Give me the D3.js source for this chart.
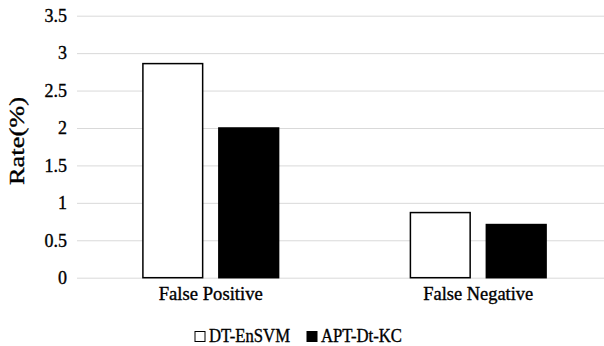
<!DOCTYPE html>
<html>
<head>
<meta charset="utf-8">
<script src="https://cdn.jsdelivr.net/npm/d3@7"></script>
<style>
  html, body { margin: 0; padding: 0; background: #fff; }
  svg { display: block; }
  text { font-family: "Liberation Serif", "DejaVu Serif", serif; fill: #000; stroke: #000; stroke-width: 0.35px; }
</style>
</head>
<body>
<svg id="chart" width="604" height="346"></svg>
<script>
// Error rates of the two detectors
const categories = ["False Positive", "False Negative"];
const seriesNames = ["DT-EnSVM", "APT-Dt-KC"];
const dtEnSvm = [2.86, 0.87];
const aptDtKc = [2.0, 0.71];
const yTicks = [0, 0.5, 1, 1.5, 2, 2.5, 3, 3.5];
const yTitle = "Rate(%)";

const seriesValues = [dtEnSvm, aptDtKc];
const fills = ["#ffffff", "#000000"];

const svg = d3.select("#chart");
const plot = { left: 77, right: 612, top: 15.7, bottom: 277.7 };

const x = d3.scaleBand().domain(categories).range([plot.left, plot.right]);
const xInner = d3.scaleBand().domain(seriesNames)
  .range([65.4, x.bandwidth() - 65.4]).paddingInner(0.2);
const y = d3.scaleLinear().domain([0, 3.5]).range([plot.bottom, plot.top]);

// horizontal grid lines with numeric labels
const yAxis = d3.axisLeft(y).tickValues(yTicks).tickSize(-(plot.right - plot.left))
  .tickPadding(10).tickFormat(d3.format("~g"));
const gy = svg.append("g").attr("transform", `translate(${plot.left},0)`).call(yAxis);
gy.select(".domain").remove();
gy.selectAll(".tick line").attr("stroke", "#d9d9d9").attr("stroke-width", 1);
gy.selectAll(".tick text").attr("font-size", 18).attr("fill", "#000");

// bars
const groups = svg.append("g").selectAll("g").data(categories).join("g")
  .attr("transform", d => `translate(${x(d)},0)`);
groups.selectAll("rect")
  .data((c, i) => seriesNames.map((s, j) => ({ s, j, v: seriesValues[j][i] })))
  .join("rect")
  .attr("x", d => xInner(d.s) + 0.5)
  .attr("width", xInner.bandwidth() - 1)
  .attr("y", d => y(d.v))
  .attr("height", d => y(0) - y(d.v))
  .attr("fill", d => fills[d.j])
  .attr("stroke", "#000")
  .attr("stroke-width", 1.5);

// category labels
const catWidths = { "False Positive": 104, "False Negative": 110 };
const xAxis = d3.axisBottom(x).tickSize(0);
const gx = svg.append("g").attr("transform", `translate(0,${plot.bottom})`).call(xAxis);
gx.select(".domain").remove();
gx.selectAll(".tick text")
  .attr("y", 22.3).attr("dy", 0)
  .attr("font-size", 18).attr("fill", "#000")
  .attr("textLength", d => catWidths[d]).attr("lengthAdjust", "spacingAndGlyphs");

// y axis title
svg.append("text")
  .attr("transform", `translate(24,141) rotate(-90)`)
  .attr("text-anchor", "middle")
  .attr("font-size", 21)
  .attr("textLength", 88).attr("lengthAdjust", "spacingAndGlyphs")
  .text(yTitle);

// legend
const legendX = [195, 307];
const legend = svg.append("g").selectAll("g").data(seriesNames).join("g")
  .attr("transform", (d, i) => `translate(${legendX[i]},331.5)`);
legend.append("rect").attr("width", 10).attr("height", 10)
  .attr("fill", (d, i) => fills[i]).attr("stroke", "#000").attr("stroke-width", 1);
legend.append("text").attr("x", 14).attr("y", 10.5)
  .attr("font-size", 18)
  .attr("textLength", 81).attr("lengthAdjust", "spacingAndGlyphs")
  .text(d => d);
</script>
</body>
</html>
